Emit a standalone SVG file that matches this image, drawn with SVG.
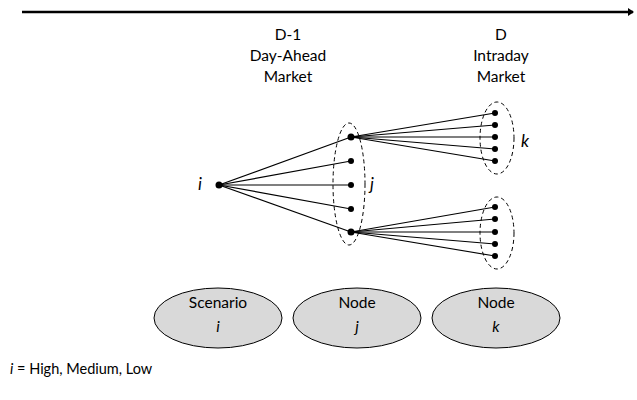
<svg xmlns="http://www.w3.org/2000/svg" width="637" height="400" viewBox="0 0 637 400">
<style>
text{font-family:Lato,"Open Sans","Liberation Sans",sans-serif;font-size:15.5px;fill:#000}
.c{text-anchor:middle}
.it{font-style:italic}
.lb{font-size:17px}
.e{stroke:#000;stroke-width:1.2;fill:none}
.d{fill:none;stroke:#000;stroke-width:1;stroke-dasharray:4,3}
.b{fill:#d9d9d9;stroke:#000;stroke-width:1}
.n{fill:#000}
.f{font-size:14.5px}
</style>
<defs>
<marker id="ah" markerWidth="6" markerHeight="8" refX="5" refY="4" orient="auto" markerUnits="userSpaceOnUse">
<path d="M0,0 L6,4 L0,8 Z" fill="#000"/>
</marker>
</defs>
<line x1="22" y1="12" x2="633" y2="12" stroke="#000" stroke-width="2.5" marker-end="url(#ah)"/>
<g id="labels">
<text class="c" x="288" y="40">D-1</text>
<text class="c" x="288" y="61">Day-Ahead</text>
<text class="c" x="288" y="82">Market</text>
<text class="c" x="501" y="40">D</text>
<text class="c" x="501" y="61">Intraday</text>
<text class="c" x="501" y="82">Market</text>
</g>
<g id="connectors">
<line class="e" x1="219" y1="185" x2="351" y2="137"/>
<line class="e" x1="219" y1="185" x2="351" y2="161"/>
<line class="e" x1="219" y1="185" x2="351" y2="185"/>
<line class="e" x1="219" y1="185" x2="351" y2="209"/>
<line class="e" x1="219" y1="185" x2="351" y2="232"/>
<line class="e" x1="351" y1="137" x2="495" y2="113"/>
<line class="e" x1="351" y1="137" x2="495" y2="125"/>
<line class="e" x1="351" y1="137" x2="495" y2="137"/>
<line class="e" x1="351" y1="137" x2="495" y2="149"/>
<line class="e" x1="351" y1="137" x2="495" y2="161"/>
<line class="e" x1="351" y1="232" x2="495" y2="207"/>
<line class="e" x1="351" y1="232" x2="495" y2="219"/>
<line class="e" x1="351" y1="232" x2="495" y2="232"/>
<line class="e" x1="351" y1="232" x2="495" y2="244"/>
<line class="e" x1="351" y1="232" x2="495" y2="256"/>
</g>
<g id="node-i">
<circle class="n" cx="219" cy="185" r="3.5"/>
<text class="it lb" x="198" y="190">i</text>
</g>
<g id="group-j">
<ellipse class="d" cx="349" cy="184" rx="16" ry="61"/>
<circle class="n" cx="351" cy="137" r="3.5"/>
<circle class="n" cx="351" cy="161" r="3"/>
<circle class="n" cx="351" cy="185" r="3"/>
<circle class="n" cx="351" cy="209" r="3"/>
<circle class="n" cx="351" cy="232" r="3.5"/>
<text class="it lb" x="370" y="190">j</text>
</g>
<g id="group-k-top">
<ellipse class="d" cx="497" cy="138" rx="17" ry="36"/>
<circle class="n" cx="495" cy="113" r="3"/>
<circle class="n" cx="495" cy="125" r="3"/>
<circle class="n" cx="495" cy="137" r="3"/>
<circle class="n" cx="495" cy="149" r="3"/>
<circle class="n" cx="495" cy="161" r="3"/>
<text class="it lb" x="521" y="147">k</text>
</g>
<g id="group-k-bottom">
<ellipse class="d" cx="497" cy="233" rx="17" ry="36"/>
<circle class="n" cx="495" cy="207" r="3"/>
<circle class="n" cx="495" cy="219" r="3"/>
<circle class="n" cx="495" cy="232" r="3"/>
<circle class="n" cx="495" cy="244" r="3"/>
<circle class="n" cx="495" cy="256" r="3"/>
</g>
<g id="legend-scenario">
<ellipse class="b" cx="218" cy="318" rx="64" ry="30"/>
<text class="c" x="218" y="308">Scenario</text>
<text class="c it" x="218" y="332">i</text>
</g>
<g id="legend-node-j">
<ellipse class="b" cx="357" cy="318" rx="64" ry="30"/>
<text class="c" x="357" y="308">Node</text>
<text class="c it" x="357" y="332">j</text>
</g>
<g id="legend-node-k">
<ellipse class="b" cx="496" cy="318" rx="64" ry="30"/>
<text class="c" x="496" y="308">Node</text>
<text class="c it" x="496" y="332">k</text>
</g>
<g id="footnote">
<text class="f" x="10" y="374"><tspan class="it">i</tspan> = High, Medium, Low</text>
</g>
</svg>
